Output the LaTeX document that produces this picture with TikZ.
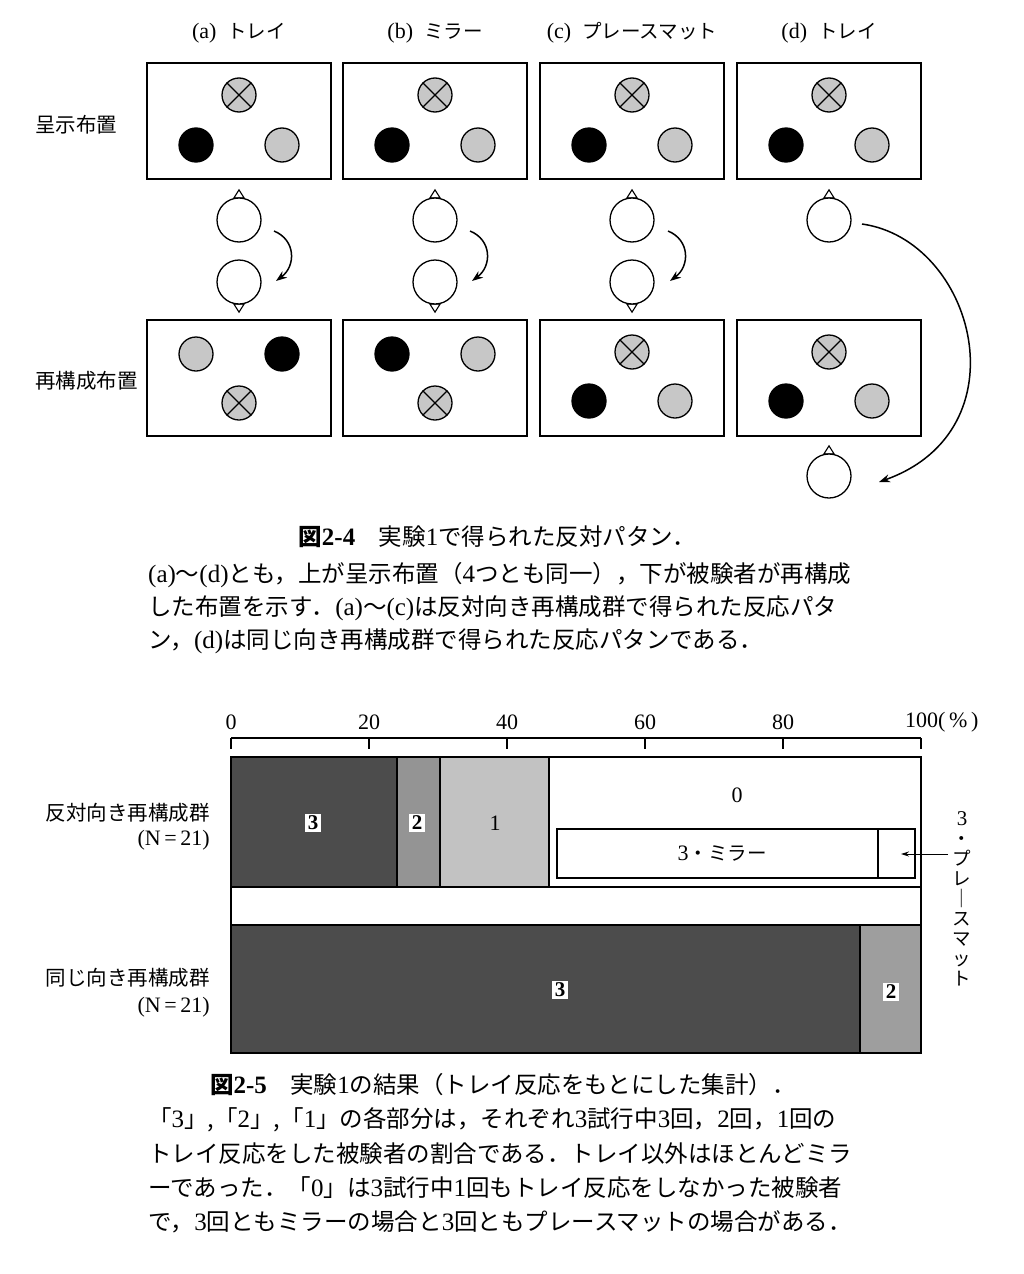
\documentclass[tikz,border=0pt]{standalone}
\usepackage{fontspec}
\usepackage{graphicx}
\setmainfont{Liberation Serif}
\newfontfamily\cjk{Noto Sans CJK JP}
\usetikzlibrary{arrows.meta,backgrounds}
\newcommand\lm[1]{{\rmfamily\fontsize{25}{28}\selectfont #1}}
\newcommand\jk[1]{{\cjk\fontsize{19.5}{24}\selectfont #1}}
\newcommand\xstone[2]{\node[gstone] (#1) at (#2) {};
  \draw[line width=1.3pt] (#1.45) -- (#1.225) (#1.135) -- (#1.315);}
\newcommand\noseup[1]{\begin{scope}[on background layer]
  \draw[nosetri] (#1.103) -- ([yshift=7.5pt]#1.north) -- (#1.77) -- cycle;\end{scope}}
\newcommand\nosedown[1]{\begin{scope}[on background layer]
  \draw[nosetri] (#1.-103) -- ([yshift=-7.5pt]#1.south) -- (#1.-77) -- cycle;\end{scope}}
\tikzset{
 tray/.style={draw, line width=1.8pt, minimum width=184pt, minimum height=116pt, inner sep=0pt},
 stonebase/.style={circle, draw, line width=1.3pt, minimum size=34pt, inner sep=0pt},
 bstone/.style={stonebase, fill=black},
 gstone/.style={stonebase, fill=black!22},
 headc/.style={circle, draw, line width=1.3pt, minimum size=44pt, inner sep=0pt, fill=white},
 nosetri/.style={draw, line width=1.1pt, fill=white},
 turnarr/.style={line width=1.5pt, -{Stealth[length=11pt,width=8pt]}},
 hlab/.style={font=\fontsize{22}{26}\selectfont, inner sep=0pt},
 jlab/.style={font=\cjk\fontsize{20.5}{24}\selectfont, inner sep=0pt},
 captext/.style={font=\cjk\fontsize{23.5}{28}\selectfont, inner sep=0pt},
 numlab/.style={font=\fontsize{22}{24}\selectfont, inner sep=0pt},
 segbox/.style={draw, line width=1.3pt},
 tagnum/.style={fill=white, inner xsep=2.5pt, inner ysep=2pt, font=\bfseries\fontsize{21}{22}\selectfont},
}
\begin{document}
\begin{tikzpicture}[x=1pt,y=-1pt]
\useasboundingbox (0,0) rectangle (1024,1274);
\begin{scope}[on background layer]
\fill[white] (0,0) rectangle (1024,1274);
\end{scope}

% ---------- headers ----------
\node[hlab] (ha) at (239,33) {(a)\hspace{0.5em}\jk{トレイ}};
\node[hlab] (hb) at (435,33) {(b)\hspace{0.5em}\jk{ミラー}};
\node[hlab] (hc) at (632,33) {(c)\hspace{0.5em}\jk{プレースマット}};
\node[hlab] (hd) at (829,33) {(d)\hspace{0.5em}\jk{トレイ}};

\node[jlab, anchor=west] (rowtop) at (35,125) {呈示布置};
\node[jlab, anchor=west] (rowbot) at (35,381) {再構成布置};

% ---------- top trays ----------
\foreach \c/\cx in {a/239,b/435,c/632,d/829}{
  \node[tray] (t\c) at (\cx,121) {};
  \xstone{t\c x}{\cx,95}
  \node[bstone] (t\c b) at (\cx-43,145) {};
  \node[gstone] (t\c g) at (\cx+43,145) {};
}

% ---------- bottom trays ----------
\node[tray] (ba) at (239,378) {};
\node[gstone] (bag) at (196,354) {};
\node[bstone] (bab) at (282,354) {};
\xstone{bax}{239,403}

\node[tray] (bb) at (435,378) {};
\node[bstone] (bbb) at (392,354) {};
\node[gstone] (bbg) at (478,354) {};
\xstone{bbx}{435,403}

\foreach \c/\cx in {c/632,d/829}{
  \node[tray] (b\c) at (\cx,378) {};
  \xstone{b\c x}{\cx,352}
  \node[bstone] (b\c b) at (\cx-43,401) {};
  \node[gstone] (b\c g) at (\cx+43,401) {};
}

% ---------- heads ----------
\foreach \c/\cx in {a/239,b/435,c/632}{
  \node[headc] (u\c) at (\cx,220) {};
  \noseup{u\c}
  \node[headc] (l\c) at (\cx,282) {};
  \nosedown{l\c}
}
\node[headc] (ud) at (829,220) {};
\noseup{ud}
\node[headc] (ld) at (829,476) {};
\noseup{ld}

% ---------- turning arrows ----------
\coordinate (sa) at (274,231); \coordinate (ea) at (276,281);
\coordinate (sb) at (470,231); \coordinate (eb) at (472,281);
\coordinate (sc) at (668,231); \coordinate (ec) at (670,281);
\draw[turnarr] (sa) .. controls (296,240) and (296,266) .. (ea);
\draw[turnarr] (sb) .. controls (492,240) and (492,266) .. (eb);
\draw[turnarr] (sc) .. controls (690,240) and (690,266) .. (ec);
\coordinate (sd) at (862,224); \coordinate (ed) at (879,482);
\draw[turnarr] (sd) .. controls (975,240) and (1025,430) .. (ed);

% ---------- caption 2-4 ----------
\node[captext] (c1t) at (497,537) {{\bfseries 図{\bfseries\lm{2-4}}}\hspace{1em}実験\lm{1}で得られた反対パタン．};
\node[captext, anchor=west] (c1a) at (148,575) {\lm{(a)}〜\lm{(d)}とも，上が呈示布置（\lm{4}つとも同一），下が被験者が再構成};
\node[captext, anchor=west] (c1b) at (148,608) {した布置を示す．\lm{(a)}〜\lm{(c)}は反対向き再構成群で得られた反応パタ};
\node[captext, anchor=west] (c1c) at (148,641) {ン，\lm{(d)}は同じ向き再構成群で得られた反応パタンである．};

% ---------- chart axis ----------
\draw[line width=1.2pt] (231,738) -- (921,738);
\foreach \x in {231,369,507,645,783,921}{\draw[line width=1.2pt] (\x,738) -- (\x,749);}
\node[numlab] (x0) at (231,722) {0};
\node[numlab] (x20) at (369,722) {20};
\node[numlab] (x40) at (507,722) {40};
\node[numlab] (x60) at (645,722) {60};
\node[numlab] (x80) at (783,722) {80};
\node[numlab, anchor=west] (x100) at (905,722) {100(\,\%\,)};

% ---------- bars ----------
\draw[segbox, fill=black!70] (231,757) rectangle (397,887);
\draw[segbox, fill=black!42] (397,757) rectangle (440,887);
\draw[segbox, fill=black!24] (440,757) rectangle (549,887);
\draw[segbox, fill=white] (549,757) rectangle (921,887);
\draw[segbox, fill=black!70] (231,925) rectangle (860,1053);
\draw[segbox, fill=black!38] (860,925) rectangle (921,1053);
\draw[segbox] (231,757) rectangle (921,1053);
\draw[line width=1.2pt] (557,829) rectangle (915,878);
\draw[line width=1.2pt] (878,829) -- (878,878);

\node[tagnum] (g3) at (313,823) {3};
\node[tagnum] (g2) at (417,823) {2};
\node[numlab] (g1) at (495,823) {1};
\node[numlab] (g0) at (737,795) {0};
\node[numlab] (gm) at (722,854) {3\jk{・ミラー}};
\node[tagnum] (s3) at (560,990) {3};
\node[tagnum] (s2) at (891,992) {2};

\node[anchor=north, align=center, inner sep=0pt, font=\cjk\fontsize{18.5}{20}\selectfont] (pm) at (962,811)
  {{\rmfamily\fontsize{21}{20}\selectfont 3}\\・\\プ\\レ\\｜\\ス\\マ\\ッ\\ト};
\coordinate (pa) at (948,854); \coordinate (pb) at (901,854);
\draw[line width=1pt, -{Stealth[length=8pt,width=5pt]}] (pa) -- (pb);

\node[jlab, anchor=east] (grp1) at (210,813) {反対向き再構成群};
\node[numlab, anchor=east] (n1) at (210,840) {(N\,=\,21)};
\node[jlab, anchor=east] (grp2) at (210,978) {同じ向き再構成群};
\node[numlab, anchor=east] (n2) at (210,1007) {(N\,=\,21)};

% ---------- caption 2-5 ----------
\node[captext] (c2t) at (503,1085) {{\bfseries 図{\bfseries\lm{2-5}}}\hspace{1em}実験\lm{1}の結果（トレイ反応をもとにした集計）．};
\node[captext, anchor=west] (c2a) at (148,1120) {「\lm{3}」,「\lm{2}」,「\lm{1}」の各部分は，それぞれ\lm{3}試行中\lm{3}回，\lm{2}回，\lm{1}回の};
\node[captext, anchor=west] (c2b) at (148,1154) {トレイ反応をした被験者の割合である．トレイ以外はほとんどミラ};
\node[captext, anchor=west] (c2c) at (148,1188) {ーであった．「\lm{0}」は\lm{3}試行中\lm{1}回もトレイ反応をしなかった被験者};
\node[captext, anchor=west] (c2d) at (148,1222) {で，\lm{3}回ともミラーの場合と\lm{3}回ともプレースマットの場合がある．};
\end{tikzpicture}
\end{document}
